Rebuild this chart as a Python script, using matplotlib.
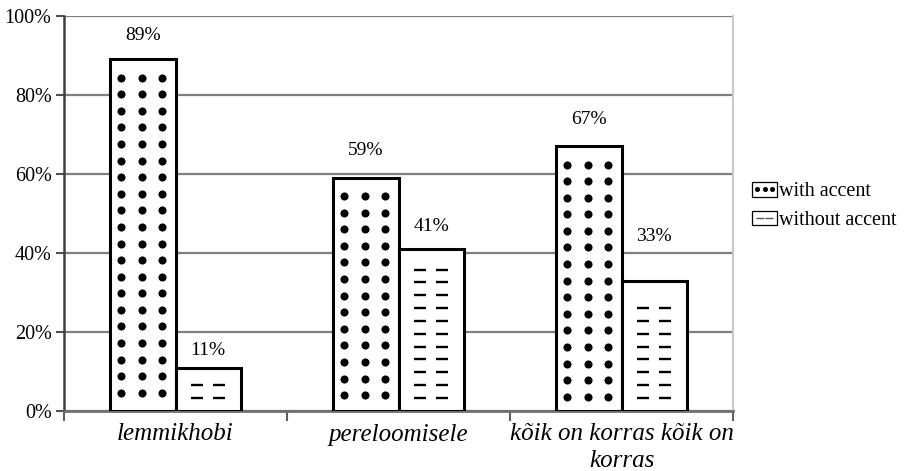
import numpy as np
import matplotlib
matplotlib.use('Agg')
import matplotlib.pyplot as plt
from matplotlib.patches import Rectangle, Patch
from matplotlib.lines import Line2D
from matplotlib.legend_handler import HandlerBase

categories = ['lemmikhobi', 'pereloomisele', 'kõik on korras kõik on\nkorras']
with_accent = [89, 59, 67]
without_accent = [11, 41, 33]
series_names = ['with accent', 'without accent']
yticks = [0, 20, 40, 60, 80, 100]

# extra lift of each value label above its bar, in points (as placed in the original)
lift_with = [17.5, 19.5, 19]
lift_without = [12.5, 16, 32]

plt.rcParams['font.family'] = ['Liberation Serif', 'DejaVu Serif']

fig = plt.figure(figsize=(9.07, 4.71), dpi=100)
ax = fig.add_axes([64 / 907, 60 / 471, 669 / 907, 395 / 471])

x = np.arange(len(categories))
w = 0.294
b1 = ax.bar(x - w / 2, with_accent, w, color='white', edgecolor='black', linewidth=2.2, zorder=3)
b2 = ax.bar(x + w / 2, without_accent, w, color='white', edgecolor='black', linewidth=2.2, zorder=3)


def fill_dots(bar):
    # rows of dots hung from the top of the bar
    x0, bw, h = bar.get_x(), bar.get_width(), bar.get_height()
    ys = np.arange(h - 4.6, 2.9, -4.2)
    for f in (0.17, 0.49, 0.8):
        ax.scatter(np.full(len(ys), x0 + f * bw), ys, s=34, color='black',
                   linewidths=0, zorder=4)


def fill_dashes(bar):
    # rows of short dashes stacked from the bottom
    x0, bw, h = bar.get_x(), bar.get_width(), bar.get_height()
    ys = np.arange(3.3, h - 3.9, 3.25)
    for f in (0.335, 0.66):
        ax.plot(np.full(len(ys), x0 + f * bw), ys, ls='none', marker='_',
                ms=8.5, mew=1.7, color='black', zorder=4)


for bar in b1:
    fill_dots(bar)
for bar in b2:
    fill_dashes(bar)

for bar, lift in zip(b1, lift_with):
    ax.annotate(f'{int(bar.get_height())}%', (bar.get_x() + bar.get_width() / 2, bar.get_height()),
                xytext=(0, lift), textcoords='offset points', ha='center', va='center',
                fontsize=14, zorder=5)
for bar, lift in zip(b2, lift_without):
    ax.annotate(f'{int(bar.get_height())}%', (bar.get_x() + bar.get_width() / 2, bar.get_height()),
                xytext=(0, lift), textcoords='offset points', ha='center', va='center',
                fontsize=14, zorder=5)

ax.set_xlim(-0.5, 2.5)
ax.set_ylim(0, 100)
ax.set_yticks(yticks)
ax.set_yticklabels([f'{t}%' for t in yticks], fontsize=14.5)
ax.set_xticks(x)
ax.set_xticklabels(categories, fontsize=18, style='italic', linespacing=1.25)
ax.set_xticks([-0.5, 0.5, 1.5, 2.5], minor=True)
ax.tick_params(axis='x', which='major', length=0, pad=9)
ax.tick_params(axis='x', which='minor', length=7, width=1.5, color='#606060')
ax.tick_params(axis='y', length=6, width=1.5, color='#505050', pad=3)

ax.yaxis.grid(True, color='#7f7f7f', linewidth=1.6, zorder=0)
ax.set_axisbelow(True)
ax.spines['top'].set_visible(False)
ax.spines['left'].set_color('#404040')
ax.spines['left'].set_linewidth(1.8)
ax.spines['bottom'].set_color('#707070')
ax.spines['bottom'].set_linewidth(2)
ax.spines['right'].set_color('#c8c8c8')
ax.spines['right'].set_linewidth(1.5)


class FillHandler(HandlerBase):
    def __init__(self, kind):
        super().__init__()
        self.kind = kind

    def create_artists(self, legend, orig_handle, xdescent, ydescent, width, height, fontsize, trans):
        box = Rectangle((-xdescent, -ydescent), width, height, facecolor='white',
                        edgecolor='black', linewidth=0.9, transform=trans)
        cy = -ydescent + height / 2
        if self.kind == 'dots':
            xs = -xdescent + width * np.array([0.2, 0.5, 0.8])
            mk = Line2D(xs, [cy] * 3, ls='none', marker='o', ms=2.6, color='black', transform=trans)
        else:
            xs = -xdescent + width * np.array([0.32, 0.68])
            mk = Line2D(xs, [cy] * 2, ls='none', marker='_', ms=6, mew=1.0, color='#555555', transform=trans)
        return [box, mk]


h_dots = Patch(label=series_names[0])
h_dash = Patch(label=series_names[1])
fig.legend(handles=[h_dots, h_dash], labels=series_names,
           handler_map={h_dots: FillHandler('dots'), h_dash: FillHandler('dash')},
           loc='upper left', bbox_to_anchor=(744 / 907, 1 - 174 / 471), frameon=False,
           fontsize=14.5, handlelength=1.25, handleheight=0.75, handletextpad=0.1,
           labelspacing=0.45, borderaxespad=0)

fig.savefig('out.png', dpi=100)
